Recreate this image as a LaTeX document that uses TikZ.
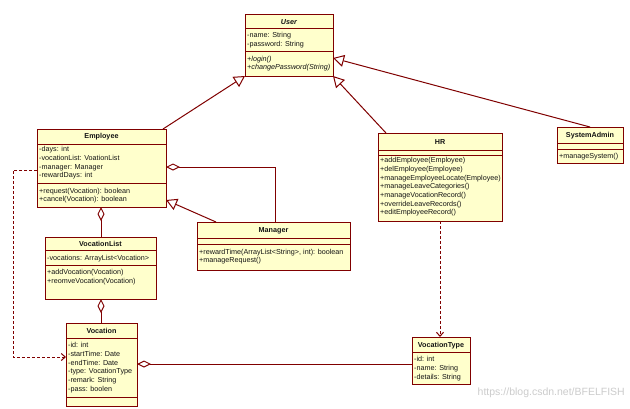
\documentclass[tikz,border=0pt]{standalone}
\usepackage{fontspec}
\setmainfont{Liberation Sans}
\usetikzlibrary{arrows.meta,calc}
\definecolor{umlred}{RGB}{128,0,0}
\definecolor{umlfill}{RGB}{255,255,204}
\definecolor{umltext}{RGB}{20,20,20}
\newcommand\umldiv[2]{\draw[umlborder] (#1.west |- 0,#2) -- (#1.east |- 0,#2);}
\newcommand\umllines[4]{\foreach \t [count=\i] in {#4} {\node[umltxt] (#1-\i) at ({#2},{#3+(\i-1)*8.7}) {\t};}}
\begin{document}
\begin{tikzpicture}[x=1pt,y=-1pt,
 umlbox/.style={draw=umlred,fill=umlfill,line width=1pt,anchor=north west,inner sep=0pt,outer sep=0pt},
 umlborder/.style={draw=umlred,line width=1pt},
 umltxt/.style={anchor=base west,inner sep=0pt,text=umltext,font=\fontsize{7.2}{8.7}\selectfont},
 umltitle/.style={anchor=base,inner sep=0pt,text=umltext,font=\fontsize{7.2}{8.7}\selectfont\bfseries},
 link/.style={draw=umlred,line width=1pt},
 gen/.style={link,-{Triangle[open,length=11pt,width=12pt]}},
 agg/.style={link,{Diamond[open,length=14pt,width=7pt]}-},
 dep/.style={link,dash pattern=on 3pt off 2pt,-{Straight Barb[length=4pt,width=7pt]}},
]
\fill[white] (0,0) rectangle (630,408);
\useasboundingbox (0,0) rectangle (630,408);

% User
\node[umlbox,minimum width=88pt,minimum height=62pt] (user) at (245,14) {};
\umldiv{user}{28}\umldiv{user}{51}
\node[umltitle] (user-t) at (user.north |- 0,24) {\itshape User};
\umllines{user-a}{247}{37.5}{-name: String,-password: String}
\umllines{user-m}{247}{61}{{\itshape +login()},{\itshape +changePassword(String)}}

% Employee
\node[umlbox,minimum width=129pt,minimum height=78pt] (emp) at (37,129) {};
\umldiv{emp}{144}\umldiv{emp}{183}
\node[umltitle] (emp-t) at (emp.north |- 0,138.5) {Employee};
\umllines{emp-a}{39}{151.6}{-days: int,-vocationList: VoationList,-manager: Manager,-rewardDays: int}
\umllines{emp-m}{39}{193.2}{+request(Vocation): boolean,+cancel(Vocation): boolean}

% VocationList
\node[umlbox,minimum width=111pt,minimum height=62pt] (vl) at (45,237) {};
\umldiv{vl}{250}\umldiv{vl}{265}
\node[umltitle] (vl-t) at (vl.north |- 0,246) {VocationList};
\umllines{vl-a}{47}{260.6}{-vocations: ArrayList<Vocation>}
\umllines{vl-m}{47}{274.6}{+addVocation(Vocation),+reomveVocation(Vocation)}

% Manager
\node[umlbox,minimum width=153pt,minimum height=48pt] (mgr) at (197,222) {};
\umldiv{mgr}{238}\umldiv{mgr}{244}
\node[umltitle] (mgr-t) at (mgr.north |- 0,232.6) {Manager};
\umllines{mgr-m}{199}{254}{{+rewardTime(ArrayList<String>, int): boolean},+manageRequest()}

% HR
\node[umlbox,minimum width=124pt,minimum height=88pt] (hr) at (378,133) {};
\umldiv{hr}{150}\umldiv{hr}{155}
\node[umltitle] (hr-t) at (hr.north |- 0,144) {HR};
\umllines{hr-m}{380}{162.6}{+addEmployee(Employee),+delEmployee(Employee),+manageEmployeeLocate(Employee),+manageLeaveCategories(),+manageVocationRecord(),+overrideLeaveRecords(),+editEmployeeRecord()}

% SystemAdmin
\node[umlbox,minimum width=66pt,minimum height=36pt] (sa) at (557,127) {};
\umldiv{sa}{143}\umldiv{sa}{149}
\node[umltitle] (sa-t) at (sa.north |- 0,137.6) {SystemAdmin};
\umllines{sa-m}{559}{158.6}{+manageSystem()}

% Vocation
\node[umlbox,minimum width=71pt,minimum height=83pt] (voc) at (66,323) {};
\umldiv{voc}{338}\umldiv{voc}{397}
\node[umltitle] (voc-t) at (voc.north |- 0,333.6) {Vocation};
\umllines{voc-a}{68}{347.6}{-id: int,-startTime: Date,-endTime: Date,-type: VocationType,-remark: String,-pass: boolen}

% VocationType
\node[umlbox,minimum width=58pt,minimum height=47pt] (vt) at (412,337) {};
\umldiv{vt}{352}
\node[umltitle] (vt-t) at (vt.north |- 0,347.6) {VocationType};
\umllines{vt-a}{414}{361.6}{-id: int,-name: String,-details: String}

% connectors
\draw[gen] ($(emp.north east)+(-3,0)$) -- (user.south west);
\draw[gen] ($(hr.north west)+(8,0)$) -- (user.south east);
\draw[gen] (sa.north) -- (user.east |- 0,58);
\draw[gen] ($(mgr.north west)+(19,0)$) -- (emp.east |- 0,200);
\draw[agg] (emp.east |- 0,167) -| ($(mgr.north west)+(78,0)$);
\draw[agg] (emp.south -| 101,0) -- (vl.north -| 101,0);
\draw[agg] (vl.south -| 101,0) -- (voc.north -| 101,0);
\draw[agg] (voc.east |- 0,364) -- (vt.west |- 0,364);
\draw[dep] (emp.west |- 0,170) -- ++(-24,0) |- (voc.west |- 0,357);
\draw[dep] (hr.south -| 440,0) -- (vt.north -| 440,0);

\node[anchor=east,inner sep=0pt,text=gray!40,font=\fontsize{10.5}{12}\selectfont] (wm) at (625,393) {https://blog.csdn.net/BFELFISH};
\end{tikzpicture}
\end{document}
